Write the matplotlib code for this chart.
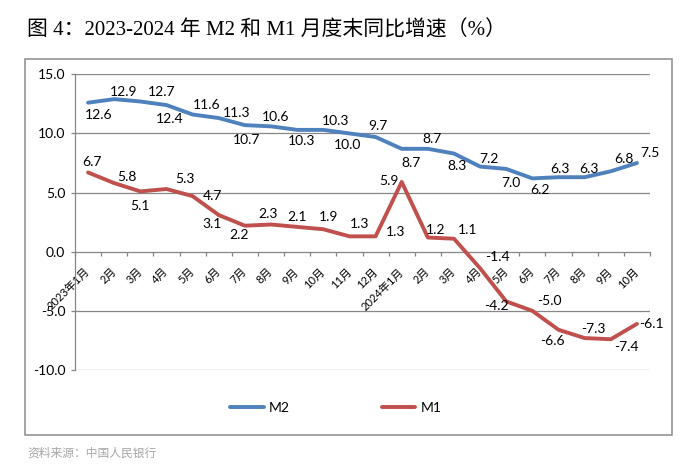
import numpy as np
import matplotlib.pyplot as plt
from matplotlib.patches import Rectangle

plt.rcParams['font.family'] = ['Lato', 'Noto Sans CJK SC', 'DejaVu Sans']

months = ["2023年1月", "2月", "3月", "4月", "5月", "6月", "7月", "8月", "9月",
          "10月", "11月", "12月", "2024年1月", "2月", "3月", "4月", "5月", "6月",
          "7月", "8月", "9月", "10月"]
m2 = [12.6, 12.9, 12.7, 12.4, 11.6, 11.3, 10.7, 10.6, 10.3, 10.3, 10.0, 9.7,
      8.7, 8.7, 8.3, 7.2, 7.0, 6.2, 6.3, 6.3, 6.8, 7.5]
m1 = [6.7, 5.8, 5.1, 5.3, 4.7, 3.1, 2.2, 2.3, 2.1, 1.9, 1.3, 1.3,
      5.9, 1.2, 1.1, -1.4, -4.2, -5.0, -6.6, -7.3, -7.4, -6.1]
yticks = [-10, -5, 0, 5, 10, 15]

# label offsets in pixels (dx, dy up)
m2_off = [(11, -12), (9, 7), (21, 10), (3, -14), (14, 10), (18, 5), (2, -15),
          (5, 9), (4, -11), (12, 9), (-2, -12), (2, 11), (9, -14), (4, 10),
          (3, -12), (9, 8), (5, -14), (8, -12), (1, 8), (4, 8), (13, 12), (13, 10)]
m1_off = [(4, 10), (13, 6), (0, -15), (18, 10), (20, 0), (-7, -9), (-6, -9),
          (-3, 11), (0, 10), (5, 12), (10, 12), (20, 4), (-13, 1), (8, 8),
          (14, 9), (17, 11), (-10, -5), (17, 10), (-6, -11), (9, 9), (16, -8), (15, 0)]

C_M2 = "#4F81BD"
C_M1 = "#C0504D"
GRID = "#878787"

fig = plt.figure(figsize=(7, 4.68), dpi=100)
W, H = 700, 468
ax = fig.add_axes([75 / W, 1 - 370 / H, (650 - 75) / W, (370 - 74.3) / H])

x = np.arange(len(months))
ax.plot(x, m2, color=C_M2, lw=2.8, solid_capstyle='round', label="M2", zorder=3)
ax.plot(x, m1, color=C_M1, lw=2.8, solid_capstyle='round', label="M1", zorder=3)

for xs, vals, offs in [(x, m2, m2_off), (x, m1, m1_off)]:
    for xi, v, (dx, dy) in zip(xs, vals, offs):
        ax.annotate(f"{v:.1f}", (xi, v), xytext=(dx, dy), textcoords='offset pixels',
                    ha='center', va='center', fontsize=10, color='black', zorder=4)

ax.set_xlim(-0.5, len(months) - 0.5)
ax.set_ylim(-10, 15)
ax.set_yticks(yticks)
ax.set_yticklabels([f"{t:.1f}" for t in yticks], fontsize=10)
for t in yticks:
    if t != 0:
        ax.axhline(t, color=GRID, lw=0.9, zorder=1)

for s in ['top', 'right']:
    ax.spines[s].set_visible(False)
ax.spines['left'].set_color(GRID)
ax.spines['left'].set_linewidth(0.9)
ax.spines['bottom'].set_position(('data', 0))
ax.spines['bottom'].set_color(GRID)
ax.spines['bottom'].set_linewidth(0.9)

ax.tick_params(axis='y', direction='out', length=3, width=0.9, color=GRID, pad=4)
ax.set_xticks(x)
ax.set_xticklabels(months, fontsize=8, rotation=45, ha='right', va='center',
                   rotation_mode='anchor')
ax.tick_params(axis='x', which='major', length=0, pad=13)
ax.set_xticks(np.arange(-0.5, len(months), 1), minor=True)
ax.tick_params(axis='x', which='minor', direction='out', length=3, width=0.9, color=GRID)

fig.legend(loc='center', bbox_to_anchor=(336 / W, 1 - 408 / H), ncol=2, frameon=False,
           fontsize=10, handlelength=2.4, handletextpad=0.4, columnspacing=6.6)

fig.patches.append(Rectangle((25 / W, 1 - 435 / H), (672 - 25) / W, (435 - 59) / H,
                             transform=fig.transFigure, fill=False, ec="#8c8c8c", lw=1.1))

fig.text(27 / W, 1 - 31 / H, "图 4：2023-2024 年 M2 和 M1 月度末同比增速（%）",
         fontsize=15, va='center', ha='left',
         family=['Liberation Serif', 'Noto Sans CJK SC'])
fig.text(27 / W, 1 - 453 / H, "资料来源：中国人民银行", fontsize=8.5, color="#a6a6a6",
         va='center', ha='left', family=['Noto Sans CJK SC'])

fig.savefig("out.png", dpi=100)
